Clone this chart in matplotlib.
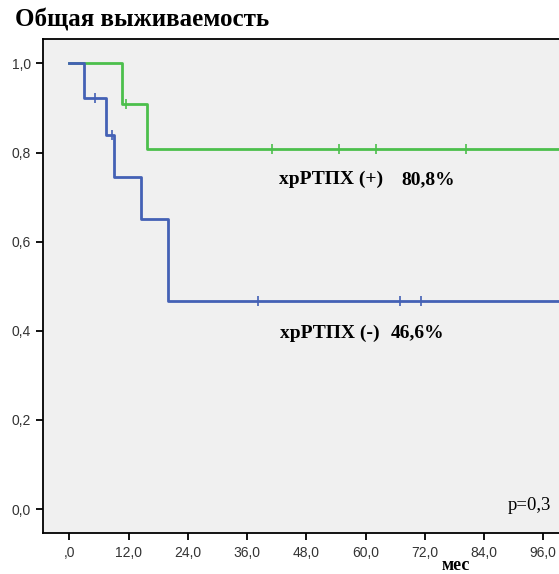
import matplotlib.pyplot as plt

# survival steps
pos_times = [0.0, 10.7, 15.8, 110.0]
pos_surv = [1.0, 0.909, 0.808, 0.808]
pos_cens_t = [11.5, 41.1, 54.6, 62.1, 80.3]
pos_cens_s = [0.909, 0.808, 0.808, 0.808, 0.808]

neg_times = [0.0, 3.0, 7.4, 9.05, 14.5, 19.9, 110.0]
neg_surv = [1.0, 0.923, 0.839, 0.746, 0.652, 0.466, 0.466]
neg_cens_t = [5.2, 8.6, 38.2, 67.0, 71.2]
neg_cens_s = [0.923, 0.839, 0.466, 0.466, 0.466]

xticks = [0, 12, 24, 36, 48, 60, 72, 84, 96]
xlabels = [',0', '12,0', '24,0', '36,0', '48,0', '60,0', '72,0', '84,0', '96,0']
yticks = [0.0, 0.2, 0.4, 0.6, 0.8, 1.0]
ylabels = ['0,0', '0,2', '0,4', '0,6', '0,8', '1,0']

green = '#4cbf4c'
blue = '#4461b5'

fig = plt.figure(figsize=(5.59, 5.74), dpi=100)
ax = fig.add_axes([0.0775, 0.0709, 1.018, 0.862])
ax.set_facecolor('#f0f0f0')

ax.step(pos_times, pos_surv, where='post', color=green, lw=2)
ax.plot(pos_cens_t, pos_cens_s, ls='none', marker='|', ms=7, mew=1.2, color=green)
ax.step(neg_times, neg_surv, where='post', color=blue, lw=2)
ax.plot(neg_cens_t, neg_cens_s, ls='none', marker='|', ms=7, mew=1.2, color=blue)

ax.set_xlim(-5.27, 110)
ax.set_ylim(-0.0545, 1.056)
ax.set_xticks(xticks)
ax.set_xticklabels(xlabels, family='Liberation Sans', fontsize=10, color='#333333')
ax.set_yticks(yticks)
ax.set_yticklabels(ylabels, family='Liberation Sans', fontsize=10, color='#333333')
ax.tick_params(axis='both', length=5, width=1.3, direction='out', pad=4)
ax.spines['right'].set_visible(False)
for s in ['left', 'top', 'bottom']:
    ax.spines[s].set_linewidth(1.3)

serif = 'Liberation Serif'
ax.text(42.5, 0.74, 'хрРТПХ (+)', family=serif, fontweight='bold', fontsize=14, va='center')
ax.text(67.2, 0.74, '80,8%', family=serif, fontweight='bold', fontsize=14, va='center')
ax.text(42.7, 0.395, 'хрРТПХ (-)', family=serif, fontweight='bold', fontsize=14, va='center')
ax.text(65.2, 0.395, '46,6%', family=serif, fontweight='bold', fontsize=14, va='center')
ax.text(88.8, 0.009, 'p=0,3', family=serif, fontsize=13.5, va='center')

fig.text(0.027, 0.965, 'Общая выживаемость', family=serif, fontweight='bold', fontsize=18, va='center')
fig.text(0.816, 0.014, 'мес', family=serif, fontweight='bold', fontsize=13, ha='center', va='center')

fig.savefig('out.png', dpi=100, facecolor='white')
